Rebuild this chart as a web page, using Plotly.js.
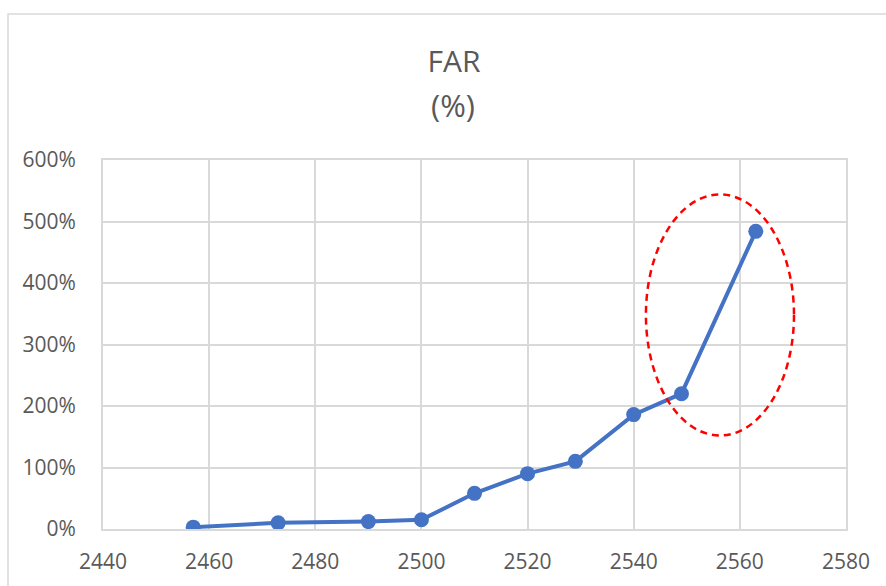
<!DOCTYPE html>
<html>
<head>
<meta charset="utf-8">
<script src="https://cdn.plot.ly/plotly-3.0.1.min.js"></script>
<style>html,body{margin:0;padding:0;background:#fff;}#chart{width:886px;height:586px;}</style>
</head>
<body>
<div id="chart"></div>
<script>
// Data
const years = [2457, 2473, 2490, 2500, 2510, 2520, 2529, 2540, 2549, 2563];
const farValues = [0.03, 0.10, 0.12, 0.15, 0.58, 0.90, 1.10, 1.86, 2.20, 4.84];
const xTicks = [2440, 2460, 2480, 2500, 2520, 2540, 2560, 2580];
const yTicks = [0, 1, 2, 3, 4, 5, 6];
const yTickLabels = ['0%', '100%', '200%', '300%', '400%', '500%', '600%'];
const titleMain = 'FAR';
const titleSub = '(%)';
// highlighted region (ellipse) in data units
const highlightX = [2542.3, 2570.2];
const highlightY = [1.52, 5.44];

const textColor = '#595959';
const gridColor = '#d9d9d9';
const fontFamily = '"Open Sans", "Noto Sans", sans-serif';

const trace = {
  x: years,
  y: farValues,
  type: 'scatter',
  mode: 'lines+markers',
  line: {color: '#4472C4', width: 4},
  marker: {color: '#4472C4', size: 15},
  hoverinfo: 'x+y'
};

const layout = {
  width: 886,
  height: 586,
  paper_bgcolor: '#ffffff',
  plot_bgcolor: '#ffffff',
  margin: {l: 103, r: 40, t: 160, b: 57},
  showlegend: false,
  font: {family: fontFamily, color: textColor, size: 21},
  title: {
    text: titleMain,
    font: {family: fontFamily, color: textColor, size: 30},
    xref: 'container', yref: 'container',
    x: 454 / 886, y: 1 - 61 / 586,
    xanchor: 'center', yanchor: 'middle'
  },
  annotations: [{
    text: titleSub,
    xref: 'paper', yref: 'paper',
    x: (453 - 103) / 743, y: (529 - 105) / 369,
    xanchor: 'center', yanchor: 'middle',
    showarrow: false,
    font: {family: fontFamily, color: textColor, size: 31}
  }],
  xaxis: {
    range: [xTicks[0], xTicks[xTicks.length - 1]],
    tickmode: 'array',
    tickvals: xTicks,
    ticktext: xTicks.map(String),
    showgrid: true,
    gridcolor: gridColor,
    gridwidth: 2,
    showline: true,
    mirror: true,
    linecolor: gridColor,
    linewidth: 2,
    zeroline: false,
    ticks: '',
    ticklabelstandoff: 13,
    tickfont: {family: fontFamily, color: textColor, size: 21},
    fixedrange: true
  },
  yaxis: {
    range: [yTicks[0], yTicks[yTicks.length - 1]],
    tickmode: 'array',
    tickvals: yTicks,
    ticktext: yTickLabels,
    showgrid: true,
    gridcolor: gridColor,
    gridwidth: 2,
    showline: true,
    mirror: true,
    linecolor: gridColor,
    linewidth: 2,
    zeroline: false,
    ticks: '',
    ticklabelstandoff: 21,
    tickfont: {family: fontFamily, color: textColor, size: 21},
    fixedrange: true
  },
  shapes: [
    {
      type: 'rect',
      xref: 'paper', yref: 'paper',
      x0: (8 - 103) / 743, x1: 1.2,
      y0: -0.3, y1: (529 - 14) / 369,
      line: {color: '#d9d9d9', width: 1.5},
      fillcolor: 'rgba(0,0,0,0)',
      layer: 'below'
    },
    {
      type: 'circle',
      xref: 'x', yref: 'y',
      x0: highlightX[0], x1: highlightX[1],
      y0: highlightY[0], y1: highlightY[1],
      line: {color: '#FF0000', width: 2.5, dash: '7px,5px'},
      fillcolor: 'rgba(0,0,0,0)',
      layer: 'above'
    }
  ]
};

Plotly.newPlot('chart', [trace], layout, {displayModeBar: false, staticPlot: true});
</script>
</body>
</html>
